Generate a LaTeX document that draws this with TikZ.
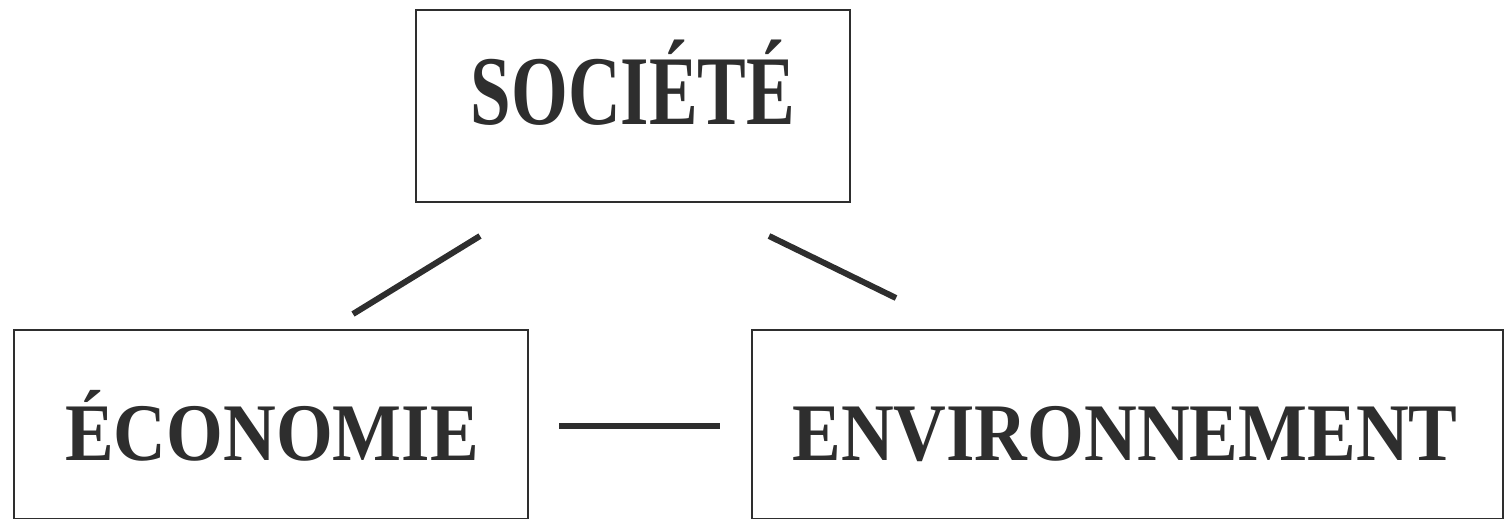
\documentclass[tikz,border=0pt]{standalone}
\usepackage{fontspec}
\setmainfont{Liberation Serif}
\begin{document}
\begin{tikzpicture}[x=1pt,y=-1pt,
  box/.style={draw=black!82,line width=2.5pt,inner sep=0pt},
  lbl/.style={anchor=base,inner sep=0pt,text=black!82,font=\fontsize{73}{80}\selectfont\bfseries},
  link/.style={draw=black!82,line width=6pt}]
\useasboundingbox (0,0) rectangle (1504,519);
\begin{scope}
\clip (0,0) rectangle (1504,519);
\node[box,minimum width=434pt,minimum height=192pt] (soc) at (633,106) {};
\node[box,minimum width=514pt,minimum height=189pt] (eco) at (271,424.5) {};
\node[box,minimum width=751pt,minimum height=189pt] (env) at (1127.5,424.5) {};
\end{scope}
\node[lbl] (soct) at (633,124) {\scalebox{1}[1.35]{SOCIÉTÉ}};
\node[lbl] (ecot) at (272,460) {\scalebox{1}[1.12]{ÉCONOMIE}};
\node[lbl] (envt) at (1125,460) {\scalebox{1}[1.12]{ENVIRONNEMENT}};
\coordinate (a1) at (480,236);
\coordinate (a2) at (353,314);
\coordinate (b1) at (769,236);
\coordinate (b2) at (896,298);
\coordinate (c1) at (559,426);
\coordinate (c2) at (720,426);
\draw[link] (a1) -- (a2);
\draw[link] (b1) -- (b2);
\draw[link] (c1) -- (c2);
\end{tikzpicture}
\end{document}
